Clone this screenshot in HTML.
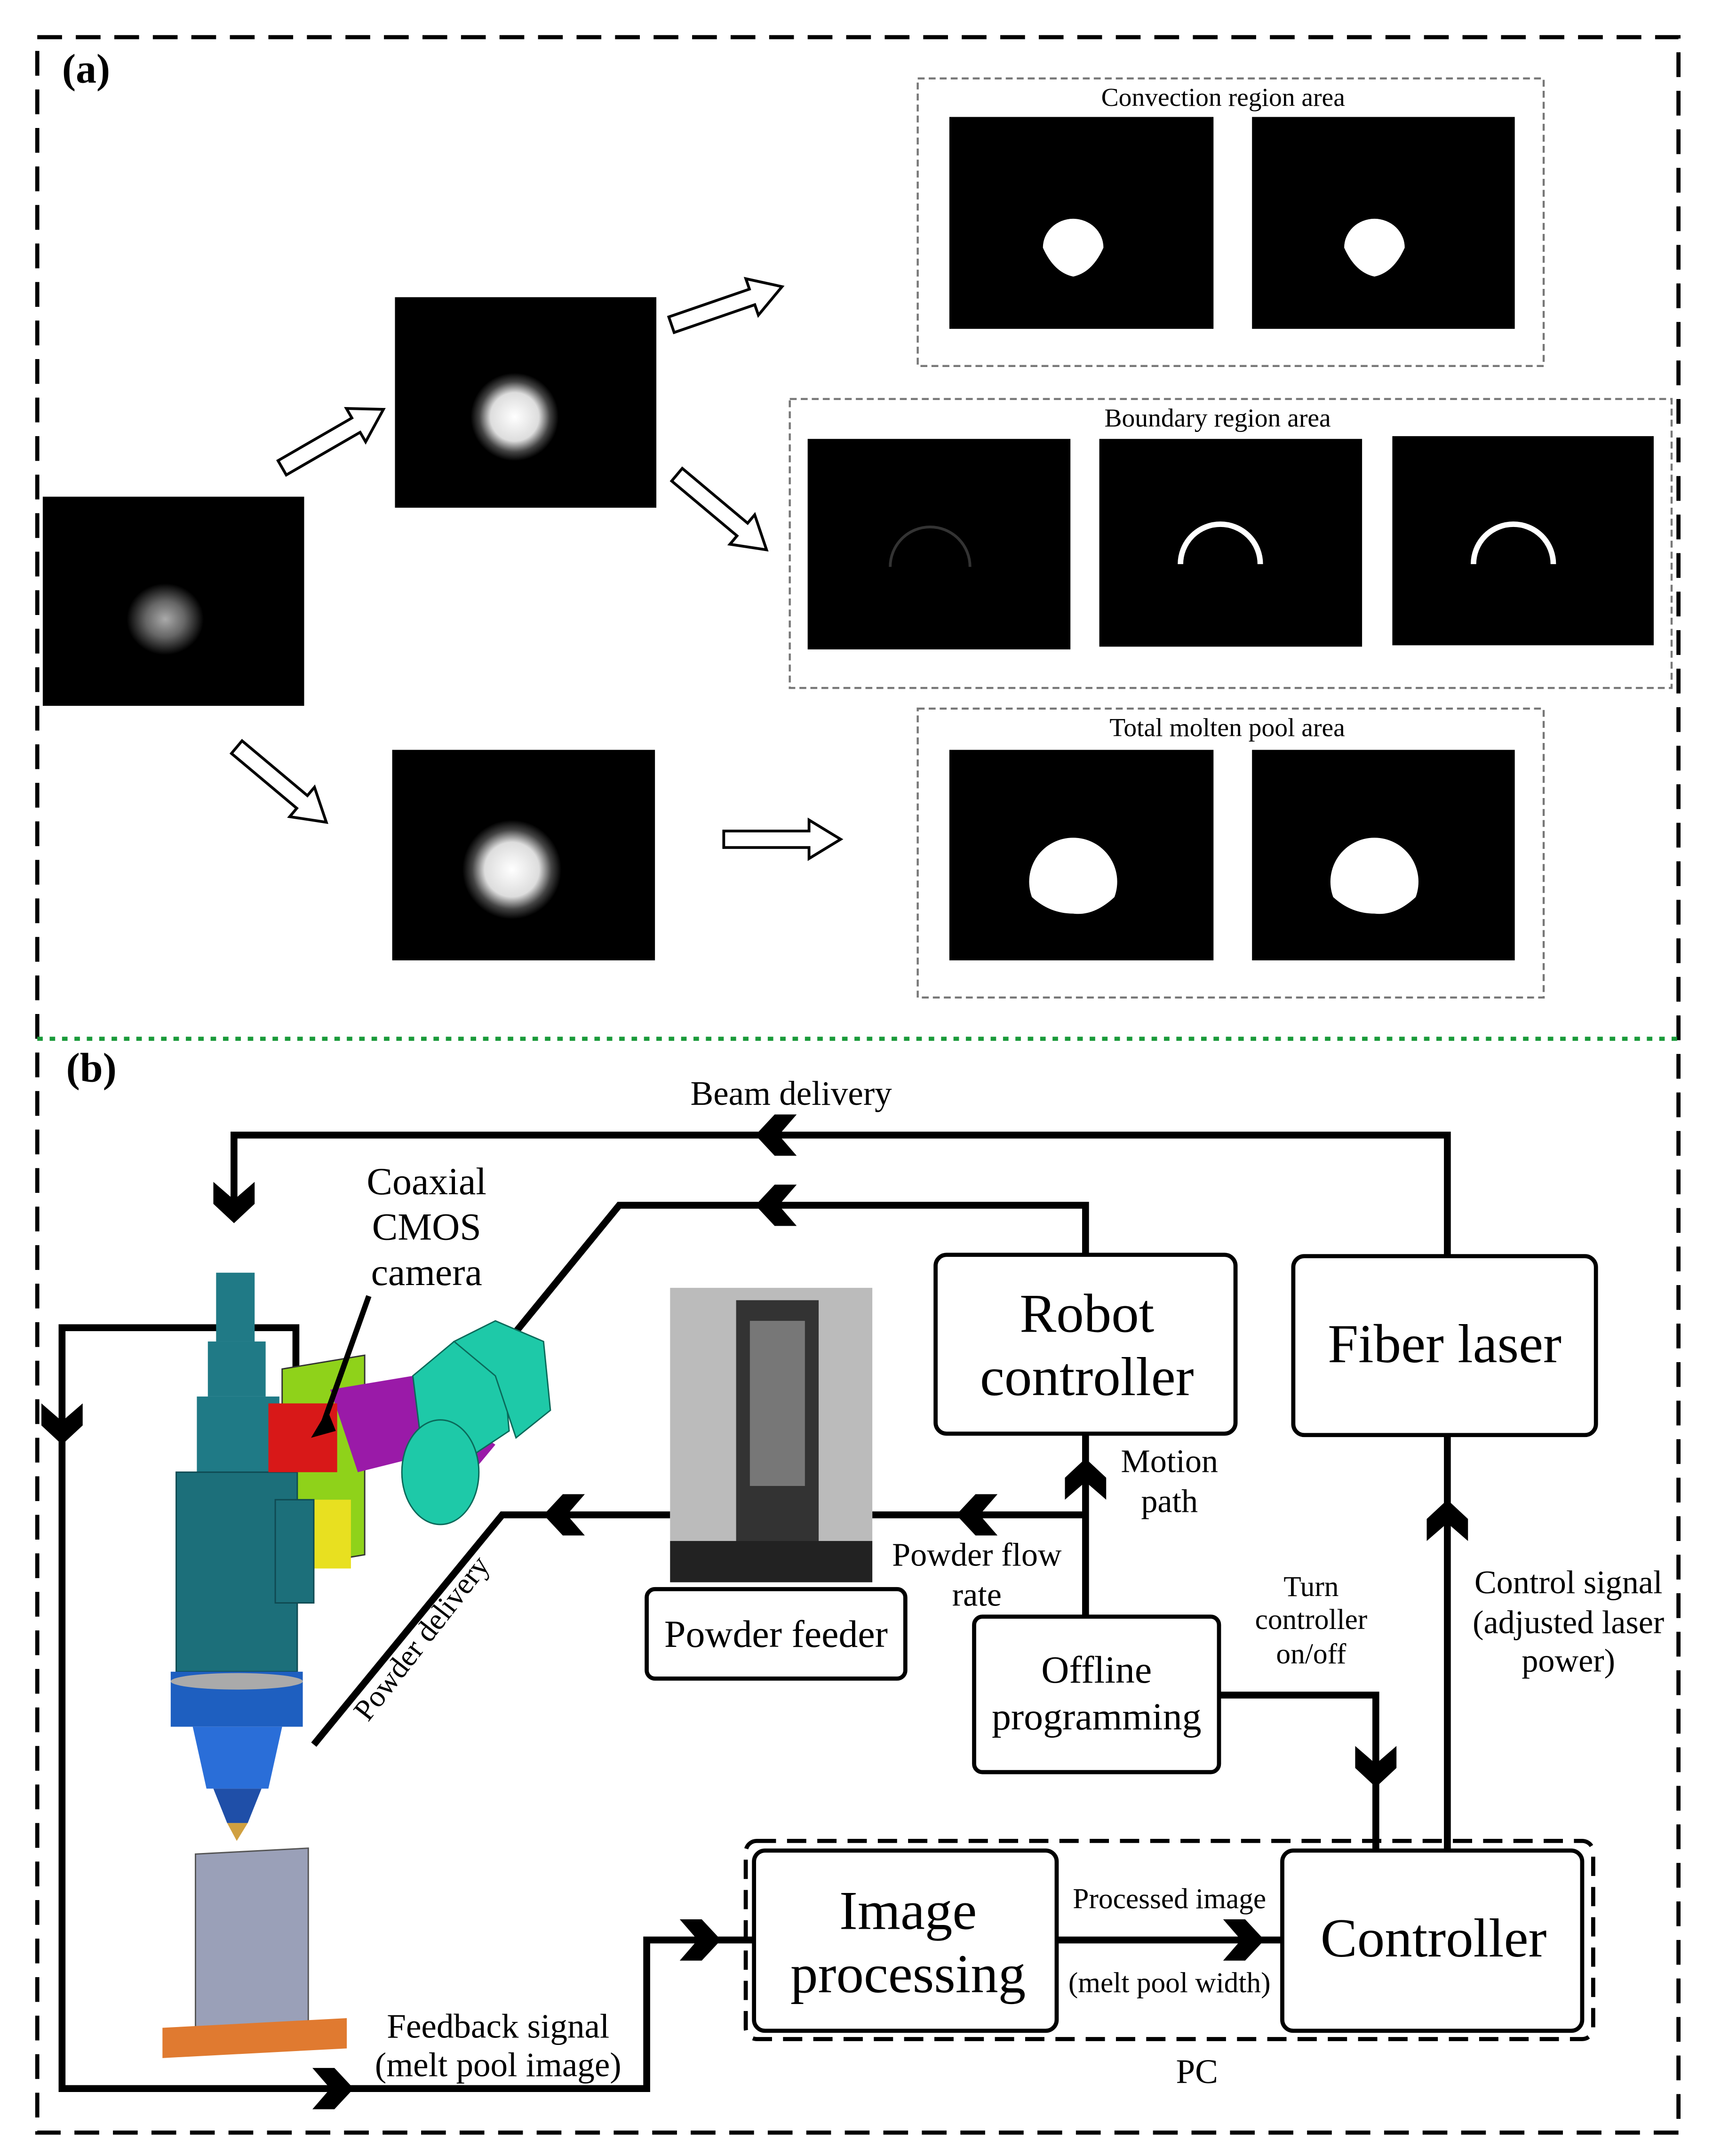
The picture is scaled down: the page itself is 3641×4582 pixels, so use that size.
<!DOCTYPE html>
<html><head><meta charset="utf-8">
<style>
html,body{margin:0;padding:0;background:#fff;}
svg{display:block;}
text{font-family:"Liberation Serif",serif;fill:#000;}
</style></head>
<body>
<svg width="3641" height="4582" viewBox="0 0 1245 1567" xmlns="http://www.w3.org/2000/svg">
<defs>
<radialGradient id="g1"><stop offset="0" stop-color="#aaa"/><stop offset="0.5" stop-color="#666"/><stop offset="1" stop-color="#000"/></radialGradient>
<radialGradient id="g2"><stop offset="0" stop-color="#fff"/><stop offset="0.55" stop-color="#ddd"/><stop offset="0.8" stop-color="#444"/><stop offset="1" stop-color="#000"/></radialGradient>
<path id="chev" d="M-13,-15 L3,-15 L17,0 L3,15 L-13,15 L0,0 Z" fill="#000"/>
<path id="harrow" d="M0,-6 L62,-6 L62,-14 L85,0 L62,14 L62,6 L0,6 Z" fill="#fff" stroke="#000" stroke-width="2"/>
</defs>
<rect width="1245" height="1567" fill="#fff"/>
<!-- outer dashed -->
<rect x="27" y="27" width="1193" height="1523" fill="none" stroke="#000" stroke-width="3" stroke-dasharray="18,10"/>
<line x1="27" y1="755" x2="1220" y2="755" stroke="#1a9a3a" stroke-width="3" stroke-dasharray="4,5"/>
<text x="45" y="60" font-size="30" font-weight="bold">(a)</text>
<text x="48" y="786" font-size="30" font-weight="bold">(b)</text>

<!-- (a) images -->
<rect x="31" y="361" width="190" height="152" fill="#000"/>
<ellipse cx="120" cy="450" rx="28" ry="26" fill="url(#g1)"/>
<rect x="287" y="216" width="190" height="153" fill="#000"/>
<circle cx="374" cy="303" r="32" fill="url(#g2)"/>
<rect x="285" y="545" width="191" height="153" fill="#000"/>
<circle cx="372" cy="632" r="36" fill="url(#g2)"/>

<rect x="667" y="57" width="455" height="209" fill="none" stroke="#777" stroke-width="1.5" stroke-dasharray="5,3"/>
<text x="889" y="77" font-size="19" text-anchor="middle">Convection region area</text>
<rect x="690" y="85" width="192" height="154" fill="#000"/>
<rect x="910" y="85" width="191" height="154" fill="#000"/>
<path d="M758,180 a22,21 0 1 1 44,0 q-8,18 -22,21 q-14,-3 -22,-21z" fill="#fff"/>
<path d="M977,180 a22,21 0 1 1 44,0 q-8,18 -22,21 q-14,-3 -22,-21z" fill="#fff"/>

<rect x="574" y="290" width="641" height="210" fill="none" stroke="#777" stroke-width="1.5" stroke-dasharray="5,3"/>
<text x="885" y="310" font-size="19" text-anchor="middle">Boundary region area</text>
<rect x="587" y="319" width="191" height="153" fill="#000"/>
<rect x="799" y="319" width="191" height="151" fill="#000"/>
<rect x="1012" y="317" width="190" height="152" fill="#000"/>
<path d="M647,412 a29,29 0 0 1 58,0" fill="none" stroke="#333" stroke-width="2"/>
<path d="M858,410 a29,29 0 0 1 58,0" fill="none" stroke="#fff" stroke-width="4"/>
<path d="M1071,410 a29,29 0 0 1 58,0" fill="none" stroke="#fff" stroke-width="4"/>

<rect x="667" y="515" width="455" height="210" fill="none" stroke="#777" stroke-width="1.5" stroke-dasharray="5,3"/>
<text x="892" y="535" font-size="19" text-anchor="middle">Total molten pool area</text>
<rect x="690" y="545" width="192" height="153" fill="#000"/>
<rect x="910" y="545" width="191" height="153" fill="#000"/>
<path d="M750,652 a32,32 0 1 1 60,0 q-15,14 -30,12 q-17,0 -30,-12z" fill="#fff"/>
<path d="M969,652 a32,32 0 1 1 60,0 q-15,14 -30,12 q-17,0 -30,-12z" fill="#fff"/>

<use href="#harrow" transform="translate(205,340) rotate(-30)"/>
<use href="#harrow" transform="translate(488,236) rotate(-19)"/>
<use href="#harrow" transform="translate(492,345) rotate(40)"/>
<use href="#harrow" transform="translate(172,543) rotate(40)"/>
<use href="#harrow" transform="translate(526,610)"/>

<!-- (b) lines -->
<g fill="none" stroke="#000" stroke-width="5">
<polyline points="1052,912 1052,825 170,825 170,880"/>
<polyline points="789,912 789,876 450,876 365,980"/>
<polyline points="789,1175 789,1042"/>
<polyline points="789,1101 634,1101"/>
<polyline points="487,1101 365,1101 228,1268"/>
<polyline points="886,1232 1000,1232 1000,1345"/>
<polyline points="1052,1043 1052,1345"/>
<polyline points="768,1410 932,1410"/>
<polyline points="215,1005 215,965 45,965 45,1518 470,1518 470,1410 548,1410"/>
</g>
<use href="#chev" transform="translate(566,825) rotate(180)"/>
<use href="#chev" transform="translate(566,876) rotate(180)"/>
<use href="#chev" transform="translate(170,872) rotate(90)"/>
<use href="#chev" transform="translate(789,1077) rotate(-90)"/>
<use href="#chev" transform="translate(712,1101) rotate(180)"/>
<use href="#chev" transform="translate(412,1101) rotate(180)"/>
<use href="#chev" transform="translate(1000,1282) rotate(90)"/>
<use href="#chev" transform="translate(1052,1107) rotate(-90)"/>
<use href="#chev" transform="translate(902,1410)"/>
<use href="#chev" transform="translate(45,1033) rotate(90)"/>
<use href="#chev" transform="translate(240,1518)"/>
<use href="#chev" transform="translate(507,1410)"/>

<!-- boxes -->
<g fill="#fff" stroke="#000" stroke-width="3">
<rect x="680" y="912" width="218" height="130" rx="8"/>
<rect x="940" y="913" width="220" height="130" rx="8"/>
<rect x="470" y="1155" width="188" height="65" rx="6"/>
<rect x="708" y="1175" width="178" height="113" rx="6"/>
<rect x="548" y="1345" width="220" height="131" rx="8"/>
<rect x="932" y="1345" width="218" height="131" rx="8"/>
</g>
<rect x="542" y="1338" width="616" height="144" rx="8" fill="none" stroke="#000" stroke-width="3" stroke-dasharray="14,8"/>

<!-- powder feeder photo -->
<rect x="487" y="936" width="147" height="214" fill="#bbb"/>
<rect x="535" y="945" width="60" height="200" fill="#333"/>
<rect x="545" y="960" width="40" height="120" fill="#777"/>
<rect x="487" y="1120" width="147" height="30" fill="#222"/>

<text x="790" y="968" font-size="40" text-anchor="middle">Robot</text>
<text x="790" y="1014" font-size="40" text-anchor="middle">controller</text>
<text x="1050" y="990" font-size="40" text-anchor="middle">Fiber laser</text>
<text x="564" y="1197" font-size="28" text-anchor="middle">Powder feeder</text>
<text x="797" y="1223" font-size="28" text-anchor="middle">Offline</text>
<text x="797" y="1257" font-size="28" text-anchor="middle">programming</text>
<text x="660" y="1402" font-size="40" text-anchor="middle">Image</text>
<text x="660" y="1448" font-size="40" text-anchor="middle">processing</text>
<text x="1042" y="1422" font-size="40" text-anchor="middle">Controller</text>

<text x="575" y="803" font-size="25" text-anchor="middle">Beam delivery</text>
<text x="310" y="868" font-size="28" text-anchor="middle">Coaxial</text>
<text x="310" y="901" font-size="28" text-anchor="middle">CMOS</text>
<text x="310" y="934" font-size="28" text-anchor="middle">camera</text>
<text x="850" y="1070" font-size="24" text-anchor="middle">Motion</text>
<text x="850" y="1099" font-size="24" text-anchor="middle">path</text>
<text x="710" y="1138" font-size="24" text-anchor="middle">Powder flow</text>
<text x="710" y="1167" font-size="24" text-anchor="middle">rate</text>
<text x="953" y="1160" font-size="21" text-anchor="middle">Turn</text>
<text x="953" y="1184" font-size="21" text-anchor="middle">controller</text>
<text x="953" y="1209" font-size="21" text-anchor="middle">on/off</text>
<text x="1140" y="1158" font-size="24" text-anchor="middle">Control signal</text>
<text x="1140" y="1187" font-size="24" text-anchor="middle">(adjusted laser</text>
<text x="1140" y="1215" font-size="24" text-anchor="middle">power)</text>
<text x="850" y="1387" font-size="21" text-anchor="middle">Processed image</text>
<text x="850" y="1448" font-size="21" text-anchor="middle">(melt pool width)</text>
<text x="870" y="1514" font-size="25" text-anchor="middle">PC</text>
<text x="362" y="1481" font-size="25" text-anchor="middle">Feedback signal</text>
<text x="362" y="1509" font-size="25" text-anchor="middle">(melt pool image)</text>
<text x="312" y="1195" font-size="22" text-anchor="middle" transform="rotate(-52 312 1195)">Powder delivery</text>

<!-- machine head -->
<polygon points="205,995 265,985 265,1130 205,1140" fill="#8fd21a" stroke="#333" stroke-width="1"/>
<rect x="215" y="1090" width="40" height="50" fill="#e8e020"/>
<polygon points="240,1010 300,1000 330,1030 360,1050 335,1080 300,1060 260,1070" fill="#9a1aa8"/>
<polygon points="300,1000 330,975 365,985 370,1040 340,1060 305,1040" fill="#1ec9a8" stroke="#0a6a5a" stroke-width="1"/>
<polygon points="330,975 360,960 395,975 400,1025 375,1045 360,1000" fill="#1ec9a8" stroke="#0a6a5a" stroke-width="1"/>
<ellipse cx="320" cy="1070" rx="28" ry="38" fill="#1ec9a8" stroke="#0a6a5a" stroke-width="1"/>
<rect x="157" y="925" width="28" height="50" fill="#207a86"/>
<rect x="151" y="975" width="42" height="40" fill="#207a86"/>
<rect x="143" y="1015" width="60" height="55" fill="#1f7a86"/>
<rect x="128" y="1070" width="88" height="145" fill="#1c6f7a" stroke="#0f4a52" stroke-width="1"/>
<rect x="200" y="1090" width="28" height="75" fill="#1c6f7a" stroke="#0f4a52"/>
<rect x="195" y="1020" width="50" height="50" fill="#d81818"/>
<line x1="268" y1="942" x2="233" y2="1040" stroke="#000" stroke-width="4"/>
<polygon points="226,1045 238,1025 244,1040" fill="#000"/>
<rect x="124" y="1215" width="96" height="40" fill="#1e5fc0"/>
<ellipse cx="172" cy="1222" rx="48" ry="6" fill="#aaa"/>
<polygon points="140,1255 205,1255 195,1300 150,1300" fill="#2a6ed8"/>
<polygon points="155,1300 190,1300 180,1325 165,1325" fill="#1f4fa8"/>
<polygon points="165,1325 180,1325 172,1338" fill="#d0a040"/>
<rect x="142" y="1345" width="82" height="130" fill="#9aa0b8" stroke="#555" stroke-width="1" transform="skewY(-3) translate(0,10)"/>
<rect x="118" y="1465" width="134" height="22" fill="#e07a30" transform="skewY(-3) translate(0,15)"/>
</svg>
</body></html>
